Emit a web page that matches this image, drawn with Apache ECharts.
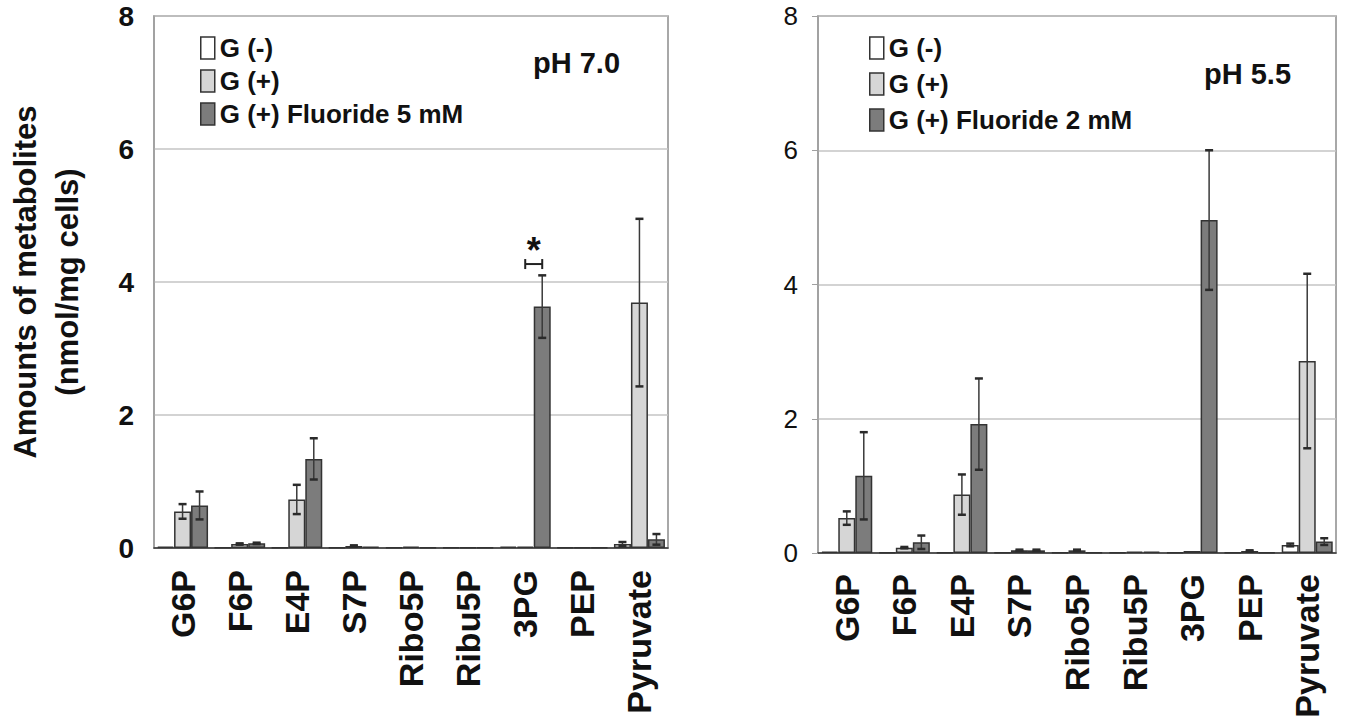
<!DOCTYPE html>
<html>
<head>
<meta charset="utf-8">
<script src="https://cdn.jsdelivr.net/npm/echarts@6/dist/echarts.min.js"></script>
<style>
  html, body { margin: 0; padding: 0; background: #fff; }
  #chart { width: 1351px; height: 724px; }
</style>
</head>
<body>
<div id="chart"></div>
<script>
var categories = ['G6P', 'F6P', 'E4P', 'S7P', 'Ribo5P', 'Ribu5P', '3PG', 'PEP', 'Pyruvate'];

// pH 7.0
var ph70GMinus    = [0.02, 0.01, 0.01, 0.01, 0.01, 0.01, 0.02, 0.01, 0.06];
var ph70GMinusErr = [0, 0, 0, 0, 0, 0, 0, 0, 0.03];
var ph70GPlus     = [0.55, 0.06, 0.73, 0.03, 0.02, 0.01, 0.02, 0.01, 3.69];
var ph70GPlusErr  = [0.11, 0.01, 0.22, 0.01, 0, 0, 0, 0, 1.26];
var ph70Fluor     = [0.64, 0.07, 1.34, 0.02, 0.01, 0.01, 3.63, 0.01, 0.13];
var ph70FluorErr  = [0.21, 0.01, 0.31, 0, 0, 0, 0.47, 0, 0.08];
var ph70Sig       = [['3PG', 4.27]];

// pH 5.5
var ph55GMinus    = [0.02, 0.01, 0.01, 0.01, 0.01, 0.01, 0.01, 0.01, 0.12];
var ph55GMinusErr = [0, 0, 0, 0, 0, 0, 0, 0, 0.02];
var ph55GPlus     = [0.52, 0.08, 0.87, 0.04, 0.04, 0.02, 0.03, 0.03, 2.86];
var ph55GPlusErr  = [0.1, 0.01, 0.3, 0.01, 0.01, 0, 0, 0.01, 1.3];
var ph55Fluor     = [1.15, 0.16, 1.92, 0.04, 0.01, 0.02, 4.96, 0.01, 0.17];
var ph55FluorErr  = [0.65, 0.1, 0.68, 0.01, 0, 0, 1.04, 0, 0.05];

var yTicks = [0, 2, 4, 6, 8];

(function() {
  var FONT = 'Arial, "Liberation Sans", sans-serif';
  var BAR_W = 17;
  var border = '#333';
  var fills = ['#ffffff', '#d6d6d6', '#7c7c7c'];

  var chart = echarts.init(document.getElementById('chart'), null, { renderer: 'svg' });

  function barSeries(name, data, idx, axis) {
    return {
      name: name,
      type: 'bar',
      xAxisIndex: axis,
      yAxisIndex: axis,
      data: data,
      barWidth: BAR_W,
      barGap: '0%',
      itemStyle: { color: fills[idx], borderColor: border, borderWidth: 1.5 }
    };
  }

  function errSeries(vals, errs, idx, axis) {
    return {
      type: 'custom',
      xAxisIndex: axis,
      yAxisIndex: axis,
      z: 5,
      silent: true,
      data: vals.map(function(v, i) { return [i, v, errs[i]]; }),
      encode: { x: 0, y: 1 },
      renderItem: function(params, api) {
        var e = api.value(2);
        if (!e) return;
        var i = api.value(0), v = api.value(1);
        var top = api.coord([i, v + e]);
        var bot = api.coord([i, Math.max(v - e, 0)]);
        var cx = top[0] + (idx - 1) * BAR_W;
        var st = { stroke: '#3a3a3a', lineWidth: 1.5 };
        var cap = { stroke: '#2a2a2a', lineWidth: 2.5 };
        return {
          type: 'group',
          children: [
            { type: 'line', shape: { x1: cx, y1: top[1], x2: cx, y2: bot[1] }, style: st },
            { type: 'line', shape: { x1: cx - 4, y1: top[1], x2: cx + 4, y2: top[1] }, style: cap },
            { type: 'line', shape: { x1: cx - 4, y1: bot[1], x2: cx + 4, y2: bot[1] }, style: cap }
          ]
        };
      }
    };
  }

  function yAxis(grid, bold, size, margin, ticks) {
    return {
      type: 'value',
      gridIndex: grid,
      min: 0, max: 8, interval: 2,
      axisLine: { show: true, lineStyle: { color: '#a0a0a0', width: 1.5 } },
      axisTick: { show: ticks, length: 6, lineStyle: { color: '#a0a0a0' } },
      splitLine: { lineStyle: { color: '#c4c4c4', width: 1.5 } },
      axisLabel: {
        color: '#111', fontFamily: FONT, fontSize: size, fontWeight: bold ? 'bold' : 'normal', margin: margin,
        lineHeight: 24,
        formatter: function(v) { return yTicks.indexOf(v) >= 0 ? String(v) : ''; }
      }
    };
  }

  function xAxis(grid, margin) {
    return {
      type: 'category',
      gridIndex: grid,
      data: categories,
      axisLine: { lineStyle: { color: '#333', width: 1.5 } },
      axisTick: { show: false },
      axisLabel: { color: '#111', fontFamily: FONT, fontSize: 34, fontWeight: 'bold', rotate: 90, margin: margin, interval: 0 }
    };
  }

  var legendText = { color: '#111', fontFamily: FONT, fontSize: 26, fontWeight: 'bold' };

  var yLeft = yAxis(0, true, 28, 20, false);
  yLeft.name = 'Amounts of metabolites\n(nmol/mg cells)';
  yLeft.nameLocation = 'middle';
  yLeft.nameRotate = 90;
  yLeft.nameGap = 66;
  yLeft.nameTextStyle = { color: '#111', fontFamily: FONT, fontSize: 31, fontWeight: 'bold', lineHeight: 42 };

  chart.setOption({
    animation: false,
    backgroundColor: '#fff',
    title: [
      { text: 'pH 7.0', left: 528, top: 43, textStyle: { color: '#111', fontFamily: FONT, fontSize: 29, fontWeight: 'bold' } },
      { text: 'pH 5.5', left: 1199, top: 54, textStyle: { color: '#111', fontFamily: FONT, fontSize: 29, fontWeight: 'bold' } }
    ],
    legend: [
      {
        data: ['G (-)', 'G (+)', 'G (+) Fluoride 5 mM'],
        orient: 'vertical', left: 195, top: 30,
        itemWidth: 14, itemHeight: 22, itemGap: 7, itemStyle: { borderWidth: 1.5 },
        icon: 'rect', textStyle: legendText, selectedMode: false
      },
      {
        data: ['G (-)', 'G (+)', 'G (+) Fluoride 2 mM'],
        orient: 'vertical', left: 864, top: 30,
        itemWidth: 14, itemHeight: 22, itemGap: 10, itemStyle: { borderWidth: 1.5 },
        icon: 'rect', textStyle: legendText, selectedMode: false
      }
    ],
    grid: [
      { left: 154, right: 683, top: 16, bottom: 176, outerBoundsMode: 'none', containLabel: false, show: true, borderColor: '#8c8c8c', borderWidth: 1.5 },
      { left: 818, right: 15, top: 16, bottom: 171, outerBoundsMode: 'none', containLabel: false, show: true, borderColor: '#8c8c8c', borderWidth: 1.5 }
    ],
    xAxis: [xAxis(0, 22), xAxis(1, 21)],
    yAxis: [yLeft, yAxis(1, false, 26, 20, true)],
    series: [
      barSeries('G (-)', ph70GMinus, 0, 0),
      barSeries('G (+)', ph70GPlus, 1, 0),
      barSeries('G (+) Fluoride 5 mM', ph70Fluor, 2, 0),
      errSeries(ph70GMinus, ph70GMinusErr, 0, 0),
      errSeries(ph70GPlus, ph70GPlusErr, 1, 0),
      errSeries(ph70Fluor, ph70FluorErr, 2, 0),
      {
        type: 'custom',
        xAxisIndex: 0, yAxisIndex: 0, z: 6, silent: true,
        data: ph70Sig,
        renderItem: function(params, api) {
          var p = api.coord([api.value(0), api.value(1)]);
          var x1 = p[0], x2 = p[0] + BAR_W, y = p[1];
          var st = { stroke: '#222', lineWidth: 2 };
          return {
            type: 'group',
            children: [
              { type: 'line', shape: { x1: x1, y1: y, x2: x2, y2: y }, style: st },
              { type: 'line', shape: { x1: x1, y1: y - 5, x2: x1, y2: y + 5 }, style: st },
              { type: 'line', shape: { x1: x2, y1: y - 5, x2: x2, y2: y + 5 }, style: st },
              { type: 'text', x: (x1 + x2) / 2, y: y + 4, style: { text: '*', font: 'bold 36px ' + FONT, fill: '#111', align: 'center', verticalAlign: 'bottom' } }
            ]
          };
        }
      },
      barSeries('G (-)', ph55GMinus, 0, 1),
      barSeries('G (+)', ph55GPlus, 1, 1),
      barSeries('G (+) Fluoride 2 mM', ph55Fluor, 2, 1),
      errSeries(ph55GMinus, ph55GMinusErr, 0, 1),
      errSeries(ph55GPlus, ph55GPlusErr, 1, 1),
      errSeries(ph55Fluor, ph55FluorErr, 2, 1)
    ]
  });
  window.addEventListener('resize', function() { chart.resize(); });
})();
</script>
</body>
</html>
